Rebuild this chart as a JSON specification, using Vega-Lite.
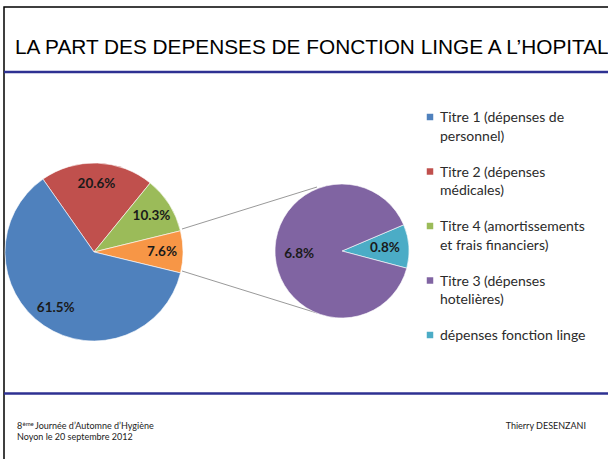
{
  "$schema": "https://vega.github.io/schema/vega-lite/v6.json",
  "width": 609,
  "height": 457,
  "padding": {"left": 4, "top": 7, "right": 0, "bottom": 0},
  "autosize": {"type": "none"},
  "background": "white",
  "config": {
    "view": {"stroke": "#000000", "strokeWidth": 1.5},
    "font": "Lato"
  },
  "title": {
    "text": "LA PART DES DEPENSES DE FONCTION LINGE A L’HOPITAL",
    "anchor": "start",
    "frame": "group",
    "offset": -68,
    "dx": 11,
    "baseline": "alphabetic",
    "font": "Liberation Sans",
    "fontSize": 20.8,
    "fontWeight": "normal",
    "color": "#000000"
  },
  "datasets": {
    "pies": [
      {"pie": "main", "cat": "Titre 2 (dépenses médicales)", "value": 0.206, "ord": 1},
      {"pie": "main", "cat": "Titre 4 (amortissements et frais financiers)", "value": 0.103, "ord": 2},
      {"pie": "main", "cat": "Autre", "value": 0.076, "ord": 3},
      {"pie": "main", "cat": "Titre 1 (dépenses de personnel)", "value": 0.615, "ord": 4},
      {"pie": "sub", "cat": "dépenses fonction linge", "value": 0.008, "ord": 1},
      {"pie": "sub", "cat": "Titre 3 (dépenses hotelières)", "value": 0.068, "ord": 2}
    ],
    "legend": [
      {"cat": "Titre 1 (dépenses de personnel)", "label": "Titre 1 (dépenses de\npersonnel)"},
      {"cat": "Titre 2 (dépenses médicales)", "label": "Titre 2 (dépenses\nmédicales)"},
      {"cat": "Titre 4 (amortissements et frais financiers)", "label": "Titre 4 (amortissements\net frais financiers)"},
      {"cat": "Titre 3 (dépenses hotelières)", "label": "Titre 3 (dépenses\nhotelières)"},
      {"cat": "dépenses fonction linge", "label": "dépenses fonction linge"}
    ],
    "footer": [
      {"part": "num", "row": "l1", "txt": "8"},
      {"part": "sup", "row": "l1", "txt": "ème"},
      {"part": "rest", "row": "l1", "txt": "Journée d’Automne d’Hygiène"},
      {"part": "line2", "row": "l2", "txt": "Noyon le 20 septembre 2012"},
      {"part": "author", "row": "l1", "txt": "Thierry DESENZANI"}
    ]
  },
  "resolve": {"scale": {"x": "independent", "y": "independent", "theta": "independent", "color": "shared"}},
  "layer": [
    {
      "data": {"values": [{"sep": "haut"}, {"sep": "bas"}]},
      "mark": {"type": "rule", "color": "#2e3192", "strokeWidth": 2.5},
      "encoding": {
        "y": {"field": "sep", "type": "nominal", "axis": null, "scale": {"type": "point", "domain": ["haut", "bas"], "range": [65, 386.5], "padding": 0}}
      }
    },
    {
      "data": {"values": [{"from": "mainHaut", "to": "subHaut"}, {"from": "mainBas", "to": "subBas"}]},
      "mark": {"type": "rule", "color": "#7f7f7f", "strokeWidth": 0.8},
      "encoding": {
        "x": {"datum": "main", "type": "nominal", "axis": null, "scale": {"type": "point", "domain": ["main", "sub"], "range": [178, 313], "padding": 0}},
        "x2": {"datum": "sub"},
        "y": {"field": "from", "type": "nominal", "axis": null, "scale": {"type": "point", "domain": ["subHaut", "mainHaut", "mainBas", "subBas"], "range": [180, 306], "padding": 0}},
        "y2": {"field": "to"}
      }
    },
    {
      "data": {"name": "pies"},
      "transform": [{"filter": "datum.pie == 'main'"}],
      "mark": {"type": "arc", "outerRadius": 89, "stroke": "white", "strokeWidth": 0.6},
      "encoding": {
        "theta": {"field": "value", "type": "quantitative", "stack": true, "scale": {"range": [-0.611, 5.672]}},
        "order": {"field": "ord", "type": "quantitative"},
        "color": {"field": "cat", "type": "nominal", "legend": null, "scale": {"domain": ["Titre 1 (dépenses de personnel)", "Titre 2 (dépenses médicales)", "Titre 4 (amortissements et frais financiers)", "Titre 3 (dépenses hotelières)", "dépenses fonction linge", "Autre"], "range": ["#4f81bd", "#c0504d", "#9bbb59", "#8064a2", "#4bacc6", "#f79646"]}},
        "x": {"field": "pie", "type": "nominal", "axis": null, "scale": {"type": "point", "domain": ["main", "sub"], "range": [90, 338], "padding": 0}},
        "y": {"field": "pie", "type": "nominal", "axis": null, "scale": {"type": "point", "domain": ["main", "sub"], "range": [245, 244], "padding": 0}}
      }
    },
    {
      "data": {"name": "pies"},
      "transform": [{"filter": "datum.pie == 'main'"}],
      "mark": {"type": "text", "radius": 68, "font": "Lato", "fontWeight": "bold", "fontSize": 13.5, "color": "#1a1a1a", "baseline": "middle", "align": "center"},
      "encoding": {
        "theta": {"field": "value", "type": "quantitative", "stack": true, "scale": {"range": [-0.611, 5.672]}},
        "order": {"field": "ord", "type": "quantitative"},
        "text": {"field": "value", "type": "quantitative", "format": ".1%"},
        "x": {"field": "pie", "type": "nominal", "axis": null, "scale": {"type": "point", "domain": ["main", "sub"], "range": [90, 338], "padding": 0}},
        "y": {"field": "pie", "type": "nominal", "axis": null, "scale": {"type": "point", "domain": ["main", "sub"], "range": [245, 244], "padding": 0}}
      }
    },
    {
      "data": {"name": "pies"},
      "transform": [{"filter": "datum.pie == 'sub'"}],
      "mark": {"type": "arc", "outerRadius": 67, "stroke": "white", "strokeWidth": 0.6},
      "encoding": {
        "theta": {"field": "value", "type": "quantitative", "stack": true, "scale": {"range": [1.169, 7.452]}},
        "order": {"field": "ord", "type": "quantitative"},
        "color": {"field": "cat", "type": "nominal", "legend": null},
        "x": {"field": "pie", "type": "nominal", "axis": null, "scale": {"type": "point", "domain": ["main", "sub"], "range": [90, 338], "padding": 0}},
        "y": {"field": "pie", "type": "nominal", "axis": null, "scale": {"type": "point", "domain": ["main", "sub"], "range": [245, 244], "padding": 0}}
      }
    },
    {
      "data": {"name": "pies"},
      "transform": [{"filter": "datum.pie == 'sub'"}],
      "mark": {"type": "text", "radius": 43, "font": "Lato", "fontWeight": "bold", "fontSize": 13.5, "color": "#1a1a1a", "baseline": "middle", "align": "center"},
      "encoding": {
        "theta": {"field": "value", "type": "quantitative", "stack": true, "scale": {"range": [1.169, 7.452]}},
        "order": {"field": "ord", "type": "quantitative"},
        "text": {"field": "value", "type": "quantitative", "format": ".1%"},
        "x": {"field": "pie", "type": "nominal", "axis": null, "scale": {"type": "point", "domain": ["main", "sub"], "range": [90, 338], "padding": 0}},
        "y": {"field": "pie", "type": "nominal", "axis": null, "scale": {"type": "point", "domain": ["main", "sub"], "range": [245, 244], "padding": 0}}
      }
    },
    {
      "data": {"name": "legend"},
      "mark": {"type": "point", "shape": "square", "filled": true, "size": 42, "opacity": 1},
      "encoding": {
        "x": {"datum": "sym", "type": "nominal", "axis": null, "scale": {"type": "point", "domain": ["sym", "txt"], "range": [426, 436], "padding": 0}},
        "y": {"field": "cat", "type": "nominal", "axis": null, "scale": {"type": "point", "domain": ["Titre 1 (dépenses de personnel)", "Titre 2 (dépenses médicales)", "Titre 4 (amortissements et frais financiers)", "Titre 3 (dépenses hotelières)", "dépenses fonction linge"], "range": [110, 328], "padding": 0}},
        "color": {"field": "cat", "type": "nominal", "legend": null}
      }
    },
    {
      "data": {"name": "legend"},
      "mark": {"type": "text", "align": "left", "baseline": "alphabetic", "lineBreak": "\n", "lineHeight": 18.5, "font": "Lato", "fontSize": 14, "color": "#2b2b2b"},
      "encoding": {
        "x": {"datum": "txt", "type": "nominal", "axis": null, "scale": {"type": "point", "domain": ["sym", "txt"], "range": [426, 436], "padding": 0}},
        "y": {"field": "cat", "type": "nominal", "axis": null, "scale": {"type": "point", "domain": ["Titre 1 (dépenses de personnel)", "Titre 2 (dépenses médicales)", "Titre 4 (amortissements et frais financiers)", "Titre 3 (dépenses hotelières)", "dépenses fonction linge"], "range": [115, 333], "padding": 0}},
        "text": {"field": "label", "type": "nominal"}
      }
    },
    {
      "data": {"name": "footer"},
      "transform": [{"filter": "datum.part == 'num' || datum.part == 'line2'"}],
      "mark": {"type": "text", "align": "left", "baseline": "middle", "font": "Lato", "fontSize": 9, "color": "#222222"},
      "encoding": {
        "x": {"datum": "gauche", "type": "nominal", "axis": null, "scale": {"type": "point", "domain": ["gauche", "droite"], "range": [13, 582], "padding": 0}},
        "y": {"field": "row", "type": "nominal", "axis": null, "scale": {"type": "point", "domain": ["l1", "l2"], "range": [419, 430], "padding": 0}},
        "text": {"field": "txt", "type": "nominal"}
      }
    },
    {
      "data": {"name": "footer"},
      "transform": [{"filter": "datum.part == 'sup'"}],
      "mark": {"type": "text", "align": "left", "baseline": "middle", "font": "Lato", "fontSize": 6, "dx": 5.5, "dy": -2.5, "color": "#222222"},
      "encoding": {
        "x": {"datum": "gauche", "type": "nominal", "axis": null, "scale": {"type": "point", "domain": ["gauche", "droite"], "range": [13, 582], "padding": 0}},
        "y": {"field": "row", "type": "nominal", "axis": null, "scale": {"type": "point", "domain": ["l1", "l2"], "range": [419, 430], "padding": 0}},
        "text": {"field": "txt", "type": "nominal"}
      }
    },
    {
      "data": {"name": "footer"},
      "transform": [{"filter": "datum.part == 'rest'"}],
      "mark": {"type": "text", "align": "left", "baseline": "middle", "font": "Lato", "fontSize": 9, "dx": 18, "color": "#222222"},
      "encoding": {
        "x": {"datum": "gauche", "type": "nominal", "axis": null, "scale": {"type": "point", "domain": ["gauche", "droite"], "range": [13, 582], "padding": 0}},
        "y": {"field": "row", "type": "nominal", "axis": null, "scale": {"type": "point", "domain": ["l1", "l2"], "range": [419, 430], "padding": 0}},
        "text": {"field": "txt", "type": "nominal"}
      }
    },
    {
      "data": {"name": "footer"},
      "transform": [{"filter": "datum.part == 'author'"}],
      "mark": {"type": "text", "align": "right", "baseline": "middle", "font": "Lato", "fontSize": 9, "color": "#222222"},
      "encoding": {
        "x": {"datum": "droite", "type": "nominal", "axis": null, "scale": {"type": "point", "domain": ["gauche", "droite"], "range": [13, 582], "padding": 0}},
        "y": {"field": "row", "type": "nominal", "axis": null, "scale": {"type": "point", "domain": ["l1", "l2"], "range": [419, 430], "padding": 0}},
        "text": {"field": "txt", "type": "nominal"}
      }
    }
  ]
}
